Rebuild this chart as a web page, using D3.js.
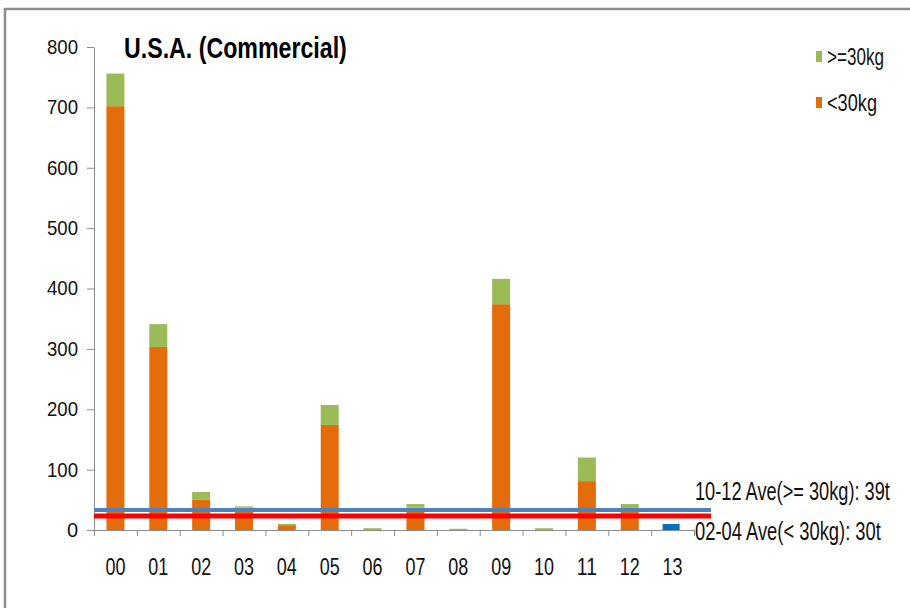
<!DOCTYPE html>
<html lang="en">
<head>
<meta charset="utf-8">
<title>U.S.A. (Commercial)</title>
<script src="https://d3js.org/d3.v7.min.js"></script>
<style>
  body { margin: 0; background: #fff; }
  .axis path, .axis line { stroke: #8c8c8c; }
  .narrow { font-family: "Liberation Sans Narrow", "Liberation Sans", Arial, sans-serif; }
</style>
</head>
<body>
<div id="chart"></div>
<script>

// data
var years = ["00","01","02","03","04","05","06","07","08","09","10","11","12","13"];
var under30 = [702, 303, 50, 37, 8, 174, 0, 37, 0, 374, 0, 81, 36, 0];
var over30  = [54, 38, 13, 2, 2, 33, 3, 6, 2, 42, 3, 39, 7, 0];
var latest  = [0, 0, 0, 0, 0, 0, 0, 0, 0, 0, 0, 0, 0, 10];
var yTicks = [0, 100, 200, 300, 400, 500, 600, 700, 800];
var aveValues = [33, 23];
var aveLabels = ["10-12 Ave(>= 30kg): 39t", "02-04 Ave(< 30kg): 30t"];
var aveColors = ["#4f81bd", "#ff0000"];
var legendNames = [">=30kg", "<30kg"];
var legendColors = ["#9bbb59", "#e46c0a"];

var w = 910, h = 608;

var svg = d3.select("#chart").append("svg")
    .attr("width", w)
    .attr("height", h);

// squeeze a text horizontally to a given width (the original font is condensed)
function squeeze(sel, width, ox) {
    sel.each(function() {
        var t = d3.select(this);
        var len = this.getComputedTextLength();
        var s = len > 0 ? width / len : 1;
        var x0 = ox || 0;
        t.attr("transform", "translate(" + x0 + ",0) scale(" + s + ",1) translate(" + (-x0) + ",0)");
    });
}

// frame (only top and left edges show)
svg.append("path")
    .attr("d", "M5,610 L5,9 L912,9")
    .attr("fill", "none")
    .attr("stroke", "#8c8c8c")
    .attr("stroke-width", 2.5);

var x = d3.scaleBand().domain(years).range([94, 694]).paddingInner(0.58).paddingOuter(0.29);
var y = d3.scaleLinear().domain([0, 800]).range([530, 47]);

var rows = years.map(function(d, i) {
    return { year: d, under: under30[i], over: over30[i], latest: latest[i] };
});
var stack = d3.stack().keys(["under", "over"])(rows);
var fills = { under: "#e46c0a", over: "#9bbb59" };

// y axis
var yAxis = svg.append("g")
    .attr("class", "axis")
    .attr("transform", "translate(94,0)")
    .call(d3.axisLeft(y).tickValues(yTicks).tickSize(7).tickSizeOuter(0).tickPadding(9));
yAxis.selectAll("text")
    .style("font-family", "'Liberation Sans', Arial, sans-serif")
    .style("font-size", "20px")
    .style("fill", "#111");
yAxis.selectAll("text").each(function() {
    var len = this.getComputedTextLength();
    var ax = +d3.select(this).attr("x");
    d3.select(this).attr("transform", "translate(" + ax + ",0) scale(" + (Math.min(len, 31) / len) + ",1) translate(" + (-ax) + ",0)");
});

// x axis: boundary ticks
var xb = d3.scaleLinear().domain([0, years.length]).range([94, 694]);
svg.append("g")
    .attr("class", "axis")
    .attr("transform", "translate(0,530)")
    .call(d3.axisBottom(xb).tickValues(d3.range(0, years.length + 1)).tickFormat("").tickSize(6).tickSizeOuter(0));

// x labels
var xAxis = svg.append("g")
    .attr("transform", "translate(0,530)")
    .call(d3.axisBottom(x).tickSize(0).tickPadding(28));
xAxis.select(".domain").remove();
xAxis.selectAll("text")
    .attr("class", "narrow")
    .style("font-size", "24px")
    .style("fill", "#111");
squeeze(xAxis.selectAll("text"), 20, 0);

// stacked bars
svg.append("g").selectAll("g")
    .data(stack)
    .enter().append("g")
    .attr("fill", function(s) { return fills[s.key]; })
    .selectAll("rect")
    .data(function(s) { return s; })
    .enter().append("rect")
    .attr("x", function(d) { return x(d.data.year); })
    .attr("width", x.bandwidth())
    .attr("y", function(d) { return y(d[1]); })
    .attr("height", function(d) { return y(d[0]) - y(d[1]); });

// latest year bar
svg.append("g").selectAll("rect")
    .data(rows.filter(function(d) { return d.latest > 0; }))
    .enter().append("rect")
    .attr("x", function(d) { return x(d.year) - 1; })
    .attr("width", x.bandwidth() - 1)
    .attr("y", function(d) { return y(d.latest); })
    .attr("height", function(d) { return y(0) - y(d.latest); })
    .attr("fill", "#0070c0");

// average lines
svg.append("g").selectAll("line")
    .data(aveValues)
    .enter().append("line")
    .attr("x1", 94)
    .attr("x2", 711)
    .attr("y1", function(d) { return y(d); })
    .attr("y2", function(d) { return y(d); })
    .attr("stroke", function(d, i) { return aveColors[i]; })
    .attr("stroke-width", function(d, i) { return i === 0 ? 4 : 5; });

var aveY = [500, 540];
var aveW = [195, 186];
var aveText = svg.append("g").selectAll("text")
    .data(aveLabels)
    .enter().append("text")
    .attr("class", "narrow")
    .attr("x", 695)
    .attr("y", function(d, i) { return aveY[i]; })
    .style("font-size", "25px")
    .style("fill", "#111")
    .text(function(d) { return d; });
aveText.each(function(d, i) { squeeze(d3.select(this), aveW[i], 695); });

// title
var title = svg.append("text")
    .attr("class", "narrow")
    .attr("x", 124)
    .attr("y", 58)
    .style("font-size", "30px")
    .style("font-weight", "bold")
    .style("fill", "#000")
    .text("U.S.A. (Commercial)");
squeeze(title, 223, 124);

// legend
var legend = svg.append("g").selectAll("g")
    .data(legendNames)
    .enter().append("g")
    .attr("transform", function(d, i) { return "translate(816," + (51 + i * 46) + ")"; });
legend.append("rect")
    .attr("width", 6)
    .attr("height", 11)
    .attr("fill", function(d, i) { return legendColors[i]; });
var legText = legend.append("text")
    .attr("class", "narrow")
    .attr("x", 11)
    .attr("y", 14)
    .style("font-size", "23px")
    .style("fill", "#111")
    .text(function(d) { return d; });
var legW = [57, 50];
legText.each(function(d, i) { squeeze(d3.select(this), legW[i], 11); });

</script>
</body>
</html>
